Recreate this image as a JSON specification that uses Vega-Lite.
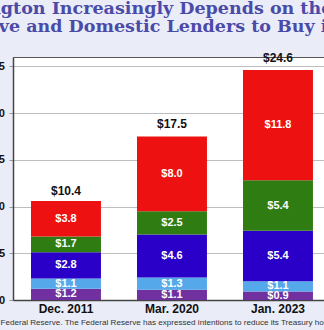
{
  "$schema": "https://vega.github.io/schema/vega-lite/v6.json",
  "autosize": {"type": "none"},
  "width": 311,
  "height": 243,
  "padding": {"left": 13, "top": 57, "right": 0, "bottom": 30},
  "background": "#eaecf7",
  "config": {
    "view": {"stroke": "#555", "strokeWidth": 1, "fill": "white"},
    "font": "Liberation Sans"
  },
  "title": {
    "text": ["Washington Increasingly Depends on the Federal", "Reserve and Domestic Lenders to Buy its Debt"],
    "anchor": "middle",
    "frame": "group",
    "font": "DejaVu Serif",
    "fontSize": 17.5,
    "fontWeight": "bold",
    "color": "#4a4aa8",
    "lineHeight": 18,
    "baseline": "bottom",
    "offset": -1,
    "dx": 2
  },
  "datasets": {
    "segments": [
      {"date": "Dec. 2011", "holder": "China", "order": 1, "value": 1.2, "label": "$1.2"},
      {"date": "Dec. 2011", "holder": "Japan", "order": 2, "value": 1.1, "label": "$1.1"},
      {"date": "Dec. 2011", "holder": "Other Foreign", "order": 3, "value": 2.8, "label": "$2.8"},
      {"date": "Dec. 2011", "holder": "Federal Reserve", "order": 4, "value": 1.7, "label": "$1.7"},
      {"date": "Dec. 2011", "holder": "Domestic Lenders", "order": 5, "value": 3.8, "label": "$3.8"},
      {"date": "Mar. 2020", "holder": "China", "order": 1, "value": 1.1, "label": "$1.1"},
      {"date": "Mar. 2020", "holder": "Japan", "order": 2, "value": 1.3, "label": "$1.3"},
      {"date": "Mar. 2020", "holder": "Other Foreign", "order": 3, "value": 4.6, "label": "$4.6"},
      {"date": "Mar. 2020", "holder": "Federal Reserve", "order": 4, "value": 2.5, "label": "$2.5"},
      {"date": "Mar. 2020", "holder": "Domestic Lenders", "order": 5, "value": 8.0, "label": "$8.0"},
      {"date": "Jan. 2023", "holder": "China", "order": 1, "value": 0.9, "label": "$0.9"},
      {"date": "Jan. 2023", "holder": "Japan", "order": 2, "value": 1.1, "label": "$1.1"},
      {"date": "Jan. 2023", "holder": "Other Foreign", "order": 3, "value": 5.4, "label": "$5.4"},
      {"date": "Jan. 2023", "holder": "Federal Reserve", "order": 4, "value": 5.4, "label": "$5.4"},
      {"date": "Jan. 2023", "holder": "Domestic Lenders", "order": 5, "value": 11.8, "label": "$11.8"}
    ],
    "totals": [
      {"date": "Dec. 2011", "total": 10.4, "label": "$10.4"},
      {"date": "Mar. 2020", "total": 17.5, "label": "$17.5"},
      {"date": "Jan. 2023", "total": 24.6, "label": "$24.6"}
    ]
  },
  "encoding": {
    "x": {
      "field": "date",
      "type": "nominal",
      "sort": ["Dec. 2011", "Mar. 2020", "Jan. 2023"],
      "scale": {"paddingInner": 0.34, "paddingOuter": 0.137, "align": 0.62},
      "axis": {
        "labelAngle": 0,
        "labelFontWeight": "bold",
        "labelFontSize": 12,
        "labelColor": "#111",
        "labelPadding": 3,
        "ticks": false,
        "domain": true,
        "domainColor": "#444",
        "domainWidth": 1.5,
        "title": "Federal Reserve. The Federal Reserve has expressed intentions to reduce its Treasury holdings.",
        "titleFontSize": 8.1,
        "titleFontWeight": "normal",
        "titleColor": "#333",
        "titleAnchor": "start",
        "titleAlign": "left",
        "titleX": -13,
        "titleY": 24,
        "titleBaseline": "alphabetic"
      }
    }
  },
  "layer": [
    {
      "data": {"name": "segments"},
      "transform": [
        {"stack": "value", "groupby": ["date"], "sort": [{"field": "order", "order": "ascending"}], "as": ["v0", "v1"]}
      ],
      "mark": {"type": "bar"},
      "encoding": {
        "y": {
          "field": "v0",
          "type": "quantitative",
          "scale": {"domain": [0, 25]},
          "axis": {
            "values": [0, 5, 10, 15, 20, 25],
            "title": null,
            "grid": true,
            "gridColor": "#bdbdbd",
            "domain": true,
            "domainColor": "#444",
            "domainWidth": 1.5,
            "tickSize": 4,
            "tickColor": "#999",
            "labelPadding": 4.5,
            "labelFontWeight": "bold",
            "labelFontSize": 11,
            "labelColor": "#111"
          }
        },
        "y2": {"field": "v1"},
        "color": {
          "field": "holder",
          "type": "nominal",
          "legend": null,
          "scale": {
            "domain": ["China", "Japan", "Other Foreign", "Federal Reserve", "Domestic Lenders"],
            "range": ["#7030a0", "#55a8ea", "#2a00c8", "#2f7d12", "#ee1111"]
          }
        }
      }
    },
    {
      "data": {"name": "segments"},
      "transform": [
        {"stack": "value", "groupby": ["date"], "sort": [{"field": "order", "order": "ascending"}], "as": ["v0", "v1"]},
        {"calculate": "(datum.v0 + datum.v1) / 2", "as": "mid"}
      ],
      "mark": {"type": "text", "color": "white", "fontWeight": "bold", "fontSize": 11, "baseline": "middle"},
      "encoding": {
        "y": {"field": "mid", "type": "quantitative"},
        "text": {"field": "label", "type": "nominal"}
      }
    },
    {
      "data": {"name": "totals"},
      "mark": {"type": "text", "color": "#111", "fontWeight": "bold", "fontSize": 12, "baseline": "bottom", "dy": -5},
      "encoding": {
        "y": {"field": "total", "type": "quantitative"},
        "text": {"field": "label", "type": "nominal"}
      }
    }
  ]
}
